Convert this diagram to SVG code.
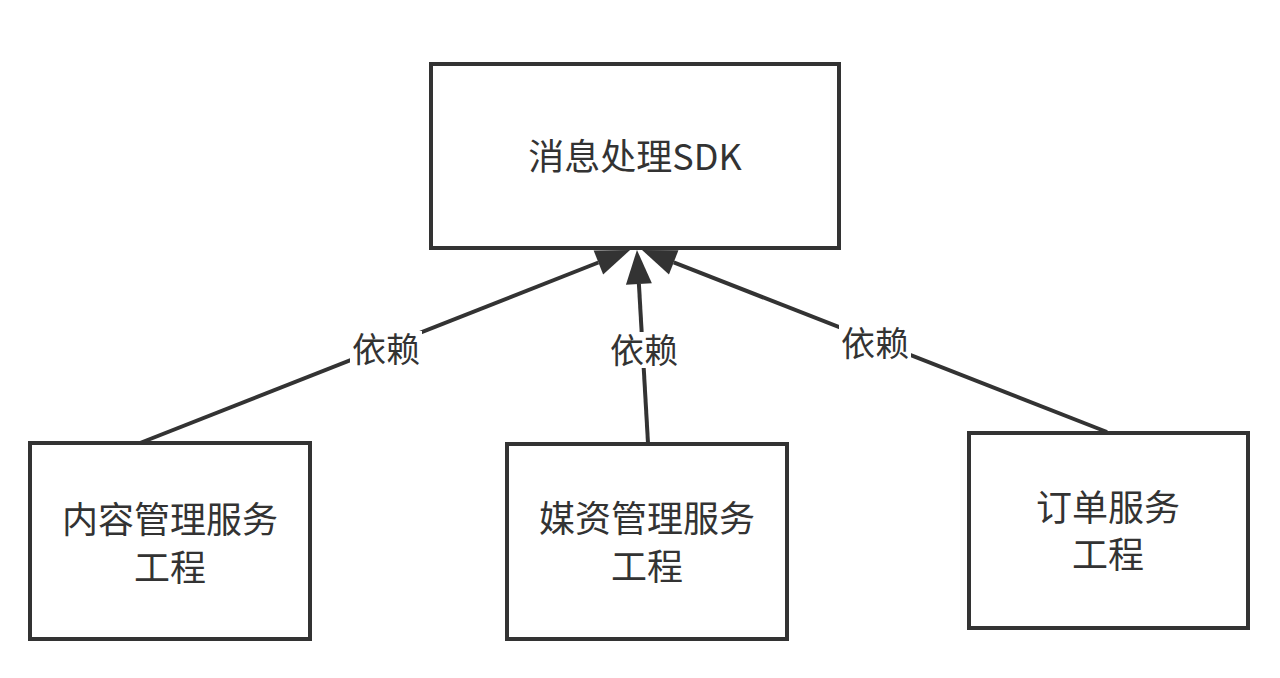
<svg xmlns="http://www.w3.org/2000/svg" width="1280" height="678" viewBox="0 0 1280 678">
<style>
.box{fill:#fff;stroke:#333;stroke-width:4}
.t{font-family:"Noto Sans CJK SC","Noto Sans",sans-serif;font-size:36px;fill:#333;text-anchor:middle}
.l{font-family:"Noto Sans CJK SC","Noto Sans",sans-serif;font-size:34px;fill:#333;text-anchor:middle}
.edge{stroke:#333;stroke-width:4;fill:none}
.lbg{fill:#fff}
</style>
<defs>
<marker id="arr" markerUnits="userSpaceOnUse" viewBox="0 -14 36 28" markerWidth="36" markerHeight="28" refX="0" refY="0" orient="auto" overflow="visible">
<path d="M0,-13 L34,0 L0,13 Z" fill="#333"/>
</marker>
</defs>
<rect width="1280" height="678" fill="#fff"/>
<g id="connectors">
<path class="edge" d="M140,443 L598.4,262.5" marker-end="url(#arr)"/>
<path class="edge" d="M648,443 L638.9,283.9" marker-end="url(#arr)"/>
<path class="edge" d="M1107,432 L673.7,262.4" marker-end="url(#arr)"/>
<rect class="lbg" x="350" y="331" width="72" height="36"/>
<text class="l" x="386" y="362">依赖</text>
<rect class="lbg" x="608" y="332" width="72" height="36"/>
<text class="l" x="644" y="363">依赖</text>
<rect class="lbg" x="839" y="325" width="72" height="36"/>
<text class="l" x="875" y="356">依赖</text>
</g>
<g id="sdk">
<rect class="box" x="431" y="64" width="408" height="184"/>
<text class="t" x="635" y="170">消息处理SDK</text>
</g>
<g id="content">
<rect class="box" x="30" y="443" width="280" height="196"/>
<text class="t" x="170" y="533">内容管理服务<tspan x="170" y="581">工程</tspan></text>
</g>
<g id="media">
<rect class="box" x="507" y="444" width="280" height="195"/>
<text class="t" x="647" y="532">媒资管理服务<tspan x="647" y="580">工程</tspan></text>
</g>
<g id="order">
<rect class="box" x="969" y="433" width="279" height="195"/>
<text class="t" x="1108" y="521">订单服务<tspan x="1108" y="568">工程</tspan></text>
</g>
</svg>
